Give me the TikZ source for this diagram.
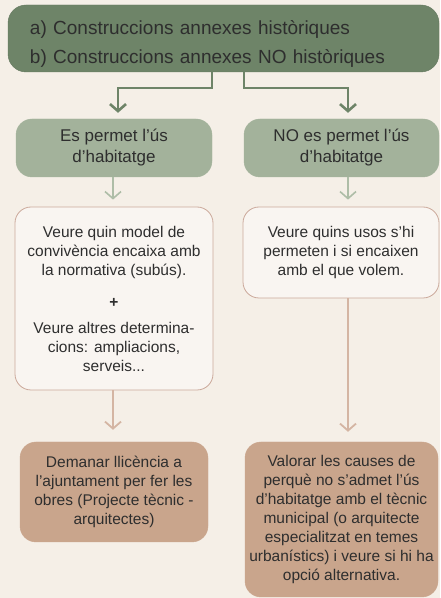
\documentclass[tikz,border=0pt]{standalone}
\usepackage{fontspec}
\setmainfont{Liberation Sans}
\usepackage{tikz}
\usetikzlibrary{arrows.meta}

\definecolor{fons}{HTML}{F5EFE7}
\definecolor{verdfosc}{HTML}{6E8468}
\definecolor{verdclar}{HTML}{A3B29B}
\definecolor{verdfletxa}{HTML}{AEBDA7}
\definecolor{vora}{HTML}{CBA99B}
\definecolor{terra}{HTML}{C9A58C}
\definecolor{terrafletxa}{HTML}{D4B5A3}
\definecolor{lletra}{HTML}{2E2E2E}

\begin{document}
\begin{tikzpicture}[x=1pt, y=1pt,
  capca/.style={draw=verdfosc!90!black, fill=verdfosc, rounded corners=18pt, minimum width=431pt, minimum height=67pt,
    text width=387pt, inner xsep=22pt, align=left, text=lletra, font=\fontsize{19}{29}\selectfont},
  opcio/.style={draw=verdclar, fill=verdclar, rounded corners=16pt, minimum height=58pt, align=center,
    text=lletra, font=\fontsize{17}{21}\selectfont},
  pas/.style={draw=vora, fill=fons!60!white, line width=0.8pt, rounded corners=16pt, align=center,
    text=lletra, font=\fontsize{15.5}{19}\selectfont},
  final/.style={draw=terra, fill=terra, rounded corners=16pt, align=center,
    text=lletra, font=\fontsize{15.5}{19}\selectfont},
  tronc/.style={draw=verdfosc, line width=2.6pt, -{Straight Barb[length=7pt, width=16pt]}},
  brancaverd/.style={draw=verdfletxa, line width=1.6pt, -{Straight Barb[length=7pt, width=16pt]}},
  brancaterra/.style={draw=terrafletxa, line width=1.8pt, -{Straight Barb[length=7pt, width=16pt]}}]
\fill[fons] (0,0) rectangle (440,598);
\useasboundingbox (0,0) rectangle (440,598);
\node[capca] (constr) at (223.5,559.5) {\rule{0pt}{25pt}a) Construccions annexes històriques\\b) Construccions annexes NO històriques};
\node[opcio, minimum width=196pt] (perm) at (114,450) {Es permet l'ús\\d'habitatge};
\node[opcio, minimum width=195pt] (noperm) at (341.5,450) {NO es permet l'ús\\d'habitatge};
\node[pas, minimum width=198pt, minimum height=183pt] (model) at (114,299.5)
  {Veure quin model de\\convivència encaixa amb\\la normativa (subús).\\[13pt]\textbf{+}\\[7pt]Veure altres determina-\\cions: ampliacions,\\serveis...};
\node[pas, minimum width=196pt, minimum height=91pt] (usos) at (341,345.5)
  {Veure quins usos s'hi\\permeten i si encaixen\\amb el que volem.};
\node[final, minimum width=188pt, minimum height=100pt] (llicencia) at (114,106)
  {Demanar llicència a\\l'ajuntament per fer les\\obres (Projecte tècnic -\\arquitectes)};
\node[final, minimum width=193pt, minimum height=155pt] (causes) at (341.5,78.5)
  {Valorar les causes de\\perquè no s'admet l'ús\\d'habitatge amb el tècnic\\municipal (o arquitecte\\especialitzat en temes\\urbanístics) i veure si hi ha\\opció alternativa.};
\draw[tronc] ([xshift=-11.5pt]constr.south) -- ++(0,-16) -| ([xshift=4pt, yshift=6pt]perm.north);
\draw[tronc] ([xshift=20.5pt]constr.south) -- ++(0,-16) -| ([xshift=6.5pt, yshift=6pt]noperm.north);
\draw[brancaverd, shorten >=7pt] ([xshift=-1pt]perm.south) -- ([xshift=-1pt]model.north);
\draw[brancaverd, shorten >=7pt] ([xshift=6.5pt]noperm.south) -- ([xshift=7pt]usos.north);
\draw[brancaterra, shorten >=12pt] ([xshift=-1pt]model.south) -- ([xshift=-1pt]llicencia.north);
\draw[brancaterra, shorten >=10pt] ([xshift=7pt]usos.south) -- ([xshift=6.5pt]causes.north);
\end{tikzpicture}
\end{document}
